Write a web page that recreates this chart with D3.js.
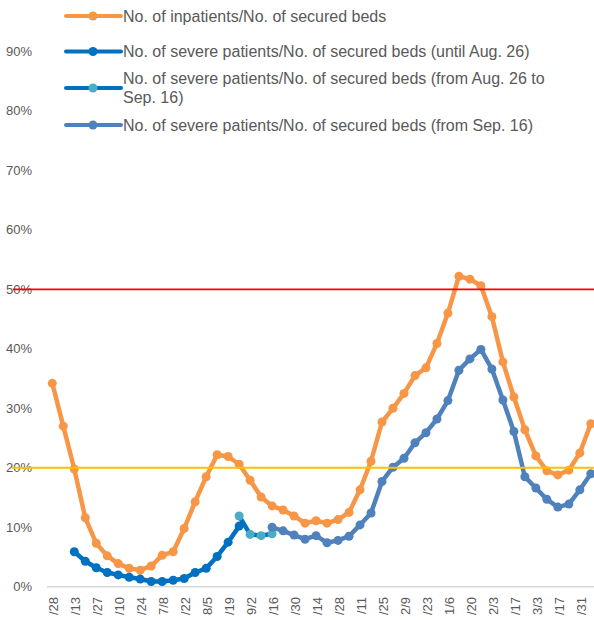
<!DOCTYPE html>
<html>
<head>
<meta charset="utf-8">
<script src="https://cdn.jsdelivr.net/npm/d3@7"></script>
<style>
  html, body { margin: 0; padding: 0; background: #fff; }
  svg { display: block; font-family: "Liberation Sans", Arial, sans-serif; }
</style>
</head>
<body>
<svg id="chart" width="594" height="620"></svg>
<script>
// ---- Data ----
const categories = ["4/28","5/6","5/13","5/20","5/27","6/3","6/10","6/17","6/24","7/1",
  "7/8","7/15","7/22","7/29","8/5","8/12","8/19","8/26","9/2","9/9",
  "9/16","9/23","9/30","10/7","10/14","10/21","10/28","11/4","11/11","11/18",
  "11/25","12/2","12/9","12/16","12/23","12/30","1/6","1/13","1/20","1/27",
  "2/3","2/10","2/17","2/24","3/3","3/10","3/17","3/24","3/31","4/7"];

// visible tick labels (every other week)
const tickLabels = ["/28","/13","/27","/10","/24","7/8","/22","8/5","/19","9/2","/16","/30","/14",
  "/28","/11","/25","2/9","/23","1/6","/20","2/3","/17","3/3","/17","/31"];

const yTicks = [0,10,20,30,40,50,60,70,80,90];

// No. of inpatients / No. of secured beds (%)
const inpatients = [34.2,27.0,19.8,11.6,7.3,5.2,3.9,3.1,2.8,3.5,
  5.3,5.9,9.8,14.3,18.5,22.2,21.9,20.6,17.9,15.1,
  13.6,12.9,11.9,10.7,11.1,10.7,11.3,12.5,16.3,21.1,
  27.7,30.0,32.5,35.5,36.8,40.9,46.0,52.2,51.7,50.6,
  45.4,37.8,31.9,26.4,22.0,19.5,18.8,19.6,22.5,27.4];

// severe patients until Aug. 26 (starts at 5/13)
const severeUntil = [null,null,5.9,4.3,3.2,2.4,2.0,1.6,1.3,0.9,
  0.9,1.1,1.4,2.4,3.1,5.1,7.5,10.2];

// severe patients from Aug. 26 to Sep. 16
const severeMidDates = ["8/26","9/2","9/9","9/16"];
const severeMidValues = [11.9,8.8,8.6,8.9];

// severe patients from Sep. 16
const severeFromDates = categories.slice(20);
const severeFromValues = [10.0,9.4,8.7,8.0,8.6,7.4,7.8,8.5,10.4,12.4,
  17.7,20.1,21.6,24.2,25.9,28.2,31.3,36.4,38.3,39.9,
  36.6,31.4,26.1,18.5,16.6,14.7,13.4,13.9,16.3,19.0];

const thresholds = [{v:50,color:"#FF0000",x0:13,w:1.8},{v:20,color:"#FFC000",x0:12,w:2}];

const legendItems = [
  {lines:["No. of inpatients/No. of secured beds"], line:"#F79646", marker:"#F79646", y:16},
  {lines:["No. of severe patients/No. of secured beds (until Aug. 26)"], line:"#0070C0", marker:"#0070C0", y:51.5},
  {lines:["No. of severe patients/No. of secured beds (from Aug. 26 to","Sep. 16)"], line:"#0070C0", marker:"#4BACC6", y:88},
  {lines:["No. of severe patients/No. of secured beds (from Sep. 16)"], line:"#4F81BD", marker:"#4F81BD", y:125}
];

// ---- Scales ----
const svg = d3.select("#chart");
const x = d3.scalePoint().domain(categories).range([52.3, 52.3 + 10.99*49]);
const y = d3.scaleLinear().domain([0,100]).range([586.8, 586.8 - 595]);

// baseline
svg.append("line").attr("x1",46.7).attr("x2",594).attr("y1",y(0)).attr("y2",y(0))
  .attr("stroke","#D9D9D9").attr("stroke-width",1.5);

// y axis
const yAxis = svg.append("g").attr("transform","translate(35,0)")
  .call(d3.axisLeft(y).tickValues(yTicks).tickFormat(d=>d+"%").tickSize(0).tickPadding(3));
yAxis.select(".domain").remove();
yAxis.selectAll("text").attr("fill","#595959").style("font-size","13px")
  .style("font-family","'Liberation Sans', Arial, sans-serif");

// x axis
const evenCats = categories.filter((d,i)=>i%2===0 && i<49);
const xAxis = svg.append("g").attr("transform",`translate(0,${y(0)})`)
  .call(d3.axisBottom(x).tickValues(evenCats).tickFormat((d,i)=>tickLabels[i]).tickSize(0));
xAxis.select(".domain").remove();
xAxis.selectAll("text")
  .attr("transform","rotate(-90)")
  .attr("x",-10.2).attr("y",1).attr("dy","0.35em")
  .attr("text-anchor","end")
  .attr("fill","#595959").style("font-size","13px")
  .style("font-family","'Liberation Sans', Arial, sans-serif");

// ---- Series ----
function drawSeries(dates, values, lineColor, markerColor) {
  const pts = dates.map((d,i)=>({d, v: values[i]})).filter(p=>p.v!=null);
  const line = d3.line().x(p=>x(p.d)).y(p=>y(p.v));
  svg.append("path").datum(pts).attr("d",line).attr("fill","none")
    .attr("stroke",lineColor).attr("stroke-width",4.5)
    .attr("stroke-linejoin","round").attr("stroke-linecap","round");
  svg.append("g").selectAll("circle").data(pts).join("circle")
    .attr("cx",p=>x(p.d)).attr("cy",p=>y(p.v)).attr("r",4.5).attr("fill",markerColor);
}

drawSeries(categories, inpatients, "#F79646", "#F79646");
drawSeries(categories.slice(0, severeUntil.length), severeUntil, "#0070C0", "#0070C0");
drawSeries(severeMidDates, severeMidValues, "#0070C0", "#4BACC6");
drawSeries(severeFromDates, severeFromValues, "#4F81BD", "#4F81BD");

// thresholds
thresholds.forEach(t=>{
  svg.append("line").attr("x1",t.x0).attr("x2",594).attr("y1",y(t.v)).attr("y2",y(t.v))
    .attr("stroke",t.color).attr("stroke-width",t.w);
});

// ---- Legend ----
const lg = svg.append("g");
legendItems.forEach(item=>{
  lg.append("line").attr("x1",66).attr("x2",121).attr("y1",item.y).attr("y2",item.y)
    .attr("stroke",item.line).attr("stroke-width",4).attr("stroke-linecap","round");
  lg.append("circle").attr("cx",93).attr("cy",item.y).attr("r",4.5).attr("fill",item.marker);
  const n = item.lines.length;
  item.lines.forEach((t,k)=>{
    const cy = item.y + (k - (n-1)/2) * 19;
    lg.append("text").attr("x",123).attr("y",cy + 5.6)
      .attr("fill","#595959").style("font-size","16px").text(t);
  });
});
</script>
</body>
</html>
